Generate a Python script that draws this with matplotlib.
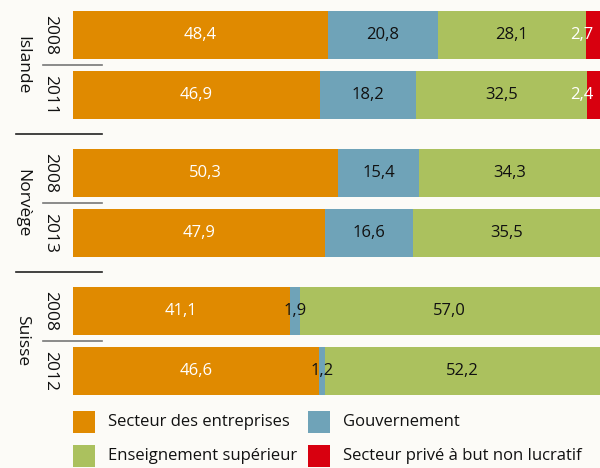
import matplotlib.pyplot as plt
from matplotlib.patches import Rectangle
from matplotlib.lines import Line2D

plt.rcParams['font.family'] = ['Open Sans', 'DejaVu Sans']
narrow = ['Liberation Sans Narrow', 'Open Sans', 'DejaVu Sans']

countries = ["Islande", "Norvège", "Suisse"]
years = [["2008", "2011"], ["2008", "2013"], ["2008", "2012"]]
series = ["Secteur des entreprises", "Gouvernement",
          "Enseignement supérieur", "Secteur privé à but non lucratif"]
entreprises = [48.4, 46.9, 50.3, 47.9, 41.1, 46.6]
gouvernement = [20.8, 18.2, 15.4, 16.6, 1.9, 1.2]
enseignement = [28.1, 32.5, 34.3, 35.5, 57.0, 52.2]
non_lucratif = [2.7, 2.4, 0.0, 0.0, 0.0, 0.0]

colors = ["#E08A00", "#6FA3B8", "#ABC15E", "#D8000F"]
text_colors = ["white", "#111111", "#111111", "white"]
bg = "#FCFBF7"

W, H = 600, 468
fig = plt.figure(figsize=(6, 4.68), dpi=100, facecolor=bg)

def fx(x):
    return x / W

def fy(y):
    return 1 - y / H

ax = fig.add_axes([fx(73), fy(400), fx(527), 400 / H])
ax.set_facecolor(bg)
ax.set_xlim(0, 100)
ax.set_ylim(400, 0)
ax.axis("off")

# bar centres in pixel units from the top
ys = []
for g in range(3):
    for k in range(2):
        ys.append(35 + g * 138 + k * 60)

data = [entreprises, gouvernement, enseignement, non_lucratif]
for i, y in enumerate(ys):
    left = 0
    for s, vals in enumerate(data):
        v = vals[i]
        if v <= 0:
            continue
        ax.barh(y, v, left=left, height=48, color=colors[s], linewidth=0)
        lab = f"{v:.1f}".replace(".", ",")
        if s == 3:
            ax.text(left + v - 1.2, y, lab, ha="right", va="center",
                    color="white", fontsize=12)
        else:
            ax.text(left + v / 2, y, lab, ha="center", va="center",
                    color=text_colors[s], fontsize=12)
        left += v

# year and country labels + separators
for g, c in enumerate(countries):
    y0, y1 = ys[2 * g], ys[2 * g + 1]
    for k, yr in enumerate(years[g]):
        fig.text(fx(50), fy([y0, y1][k]), yr, rotation=270, ha="center",
                 va="center", fontsize=12.5, color="#111111", family=narrow)
    fig.text(fx(22), fy((y0 + y1) / 2), c, rotation=270, ha="center",
             va="center", fontsize=12.5, color="#111111", family=narrow)
    ymid = (y0 + y1) / 2
    fig.add_artist(Line2D([fx(43), fx(102)], [fy(ymid), fy(ymid)],
                          color="#777777", lw=1.2))
    if g < 2:
        yb = (y1 + ys[2 * g + 2]) / 2
        fig.add_artist(Line2D([fx(16), fx(102)], [fy(yb), fy(yb)],
                              color="#222222", lw=1.2))

# legend
leg_pos = [(73, 422), (308, 422), (73, 456), (308, 456)]
for (x, y), s in zip(leg_pos, range(4)):
    fig.add_artist(Rectangle((fx(x), fy(y + 11)), fx(22), 22 / H,
                             color=colors[s], lw=0))
    fig.text(fx(x + 35), fy(y), series[s], ha="left", va="center",
             fontsize=12, color="#111111")

fig.savefig("out.png", dpi=100, facecolor=bg)
